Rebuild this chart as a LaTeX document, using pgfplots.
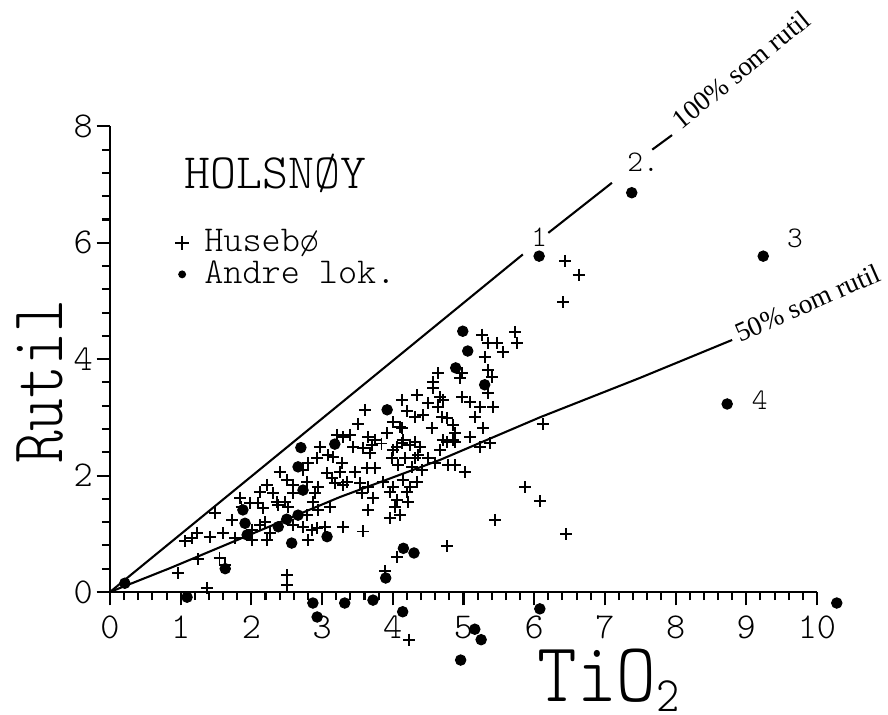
\documentclass[border=0pt]{standalone}
\usepackage{pgfplots}
\usepackage{pgfplotstable}
\pgfplotsset{compat=1.18}
\usepackage{fontspec}
\usepackage{graphicx}
\newfontfamily\timesfont{Liberation Serif}
\newfontfamily\plotfont{Latin Modern Mono Light}

\pgfplotstableread{
x y
0.96 0.33
1.25 0.56
1.55 0.58
1.06 0.88
1.16 0.93
1.23 1.02
1.41 0.95
1.60 1.01
1.77 0.93
1.49 1.36
1.73 1.24
1.84 1.62
1.86 1.46
1.98 1.53
2.09 1.53
2.16 1.44
2.12 1.72
2.22 1.84
2.31 1.70
2.36 1.55
2.38 1.49
2.48 1.55
2.52 1.46
2.40 2.06
2.50 1.92
2.59 1.84
2.59 1.70
2.73 2.10
2.80 2.21
2.93 2.30
2.97 2.49
3.08 2.35
3.15 2.32
3.28 2.21
3.25 2.06
3.07 2.04
3.14 1.96
3.18 1.87
3.30 1.84
2.79 1.89
2.94 1.80
2.90 1.70
2.87 1.55
2.94 1.41
3.11 1.46
2.12 1.15
2.19 1.20
2.26 1.01
2.22 0.89
2.01 0.89
2.01 1.07
2.73 1.12
2.59 1.15
2.86 1.07
2.93 1.10
3.04 1.12
2.80 0.89
3.30 1.12
2.79 1.32
2.50 0.29
2.50 0.12
1.37 0.07
3.89 0.36
4.23 -0.82
1.63 0.46
4.06 0.60
4.77 0.79
3.58 1.04
3.61 3.13
3.51 2.89
3.39 2.70
3.21 2.70
3.65 2.66
3.75 2.61
3.84 2.55
3.92 2.73
4.00 2.92
4.13 3.30
4.20 3.11
4.10 2.84
4.06 2.49
3.71 2.53
3.68 2.39
4.00 2.44
4.13 2.56
4.24 2.53
4.38 2.49
4.67 2.44
4.77 2.58
4.88 2.58
5.23 2.49
5.37 2.56
3.99 2.30
4.17 2.30
4.31 2.30
4.50 2.30
4.07 2.18
4.27 2.15
4.41 2.10
4.60 2.21
4.78 2.18
4.88 2.18
5.02 2.06
3.47 2.06
3.63 2.13
3.75 2.13
3.35 1.89
3.54 1.87
3.65 1.80
3.86 1.89
4.00 1.80
4.14 1.92
4.24 1.80
4.34 1.89
3.56 1.70
3.72 1.62
3.96 1.72
4.20 1.72
4.06 1.58
4.21 1.55
4.03 1.46
3.65 1.41
3.96 1.27
4.10 1.32
5.45 1.24
5.87 1.80
3.44 2.49
3.30 2.66
4.36 2.35
3.58 2.47
5.26 4.42
5.35 4.28
5.47 4.28
5.56 4.12
5.73 4.47
5.76 4.28
5.30 4.04
5.35 3.81
5.40 3.69
5.35 3.42
5.23 3.18
5.42 3.18
5.09 3.26
4.98 3.35
5.16 3.01
5.28 2.82
5.09 2.66
4.98 3.76
4.64 3.76
4.57 3.61
4.57 3.50
4.67 3.35
4.34 3.38
4.50 3.25
4.64 3.18
4.71 3.30
4.31 3.01
4.43 3.04
4.70 3.01
4.77 2.99
4.85 2.87
4.55 2.82
4.88 2.73
4.71 2.61
4.85 2.61
4.31 2.58
4.14 2.61
4.95 3.68
4.13 2.82
6.41 4.98
6.44 5.69
6.63 5.45
6.12 2.89
6.08 1.56
6.45 1.00
}\husebo

\pgfplotstableread{
x y
0.21 0.15
1.09 -0.09
1.63 0.40
2.87 -0.19
2.93 -0.43
3.32 -0.19
3.72 -0.14
3.90 0.24
4.14 -0.34
4.96 -1.17
5.16 -0.64
5.25 -0.82
6.08 -0.29
10.28 -0.19
6.07 5.77
7.38 6.86
9.24 5.77
8.73 3.23
4.99 4.48
5.06 4.14
4.89 3.85
5.30 3.56
3.92 3.13
3.18 2.54
2.70 2.48
2.66 2.15
2.73 1.75
1.88 1.41
1.91 1.18
1.94 0.98
2.50 1.25
2.38 1.12
2.66 1.32
2.57 0.84
3.07 0.95
4.15 0.75
4.30 0.67
}\andre

\begin{document}
\begin{tikzpicture}
\begin{axis}[
  x=0.9554cm, y=0.7865cm, anchor=origin, at={(0,0)},
  xmin=-1.5, xmax=10.6, ymin=-2, ymax=8.4,
  hide axis, clip=false,
  legend cell align=left,
  legend image code/.code={\draw[#1] plot coordinates {(0.12cm,0cm)}; \path (0cm,0cm) (0.36cm,0cm);},
  legend style={at={(axis cs:0.88,6.30)}, anchor=north west, draw=none, fill=none,
    font=\fontsize{14pt}{15pt}\selectfont\plotfont, inner sep=0pt,
    row sep=-1pt, column sep=0pt, nodes={inner sep=1.5pt}},
]
\addplot[only marks, mark=+, mark size=2.3pt, mark options={line width=0.7pt}, black, forget plot] table {\husebo};
\addplot[only marks, mark=*, mark size=2.0pt, black, forget plot] table {\andre};
\addlegendimage{only marks, mark=+, mark size=2.7pt, mark options={line width=0.6pt}, black}
\addlegendentry{Husebø}
\addlegendimage{only marks, mark=*, mark size=1.3pt, black}
\addlegendentry{Andre lok.}

% 100% line (with gaps for labels)
\addplot[black, line width=0.8pt, forget plot] coordinates {(0,0) (5.84,5.80)};
\addplot[black, line width=0.8pt, forget plot] coordinates {(6.20,6.17) (7.10,7.03)};
\addplot[black, line width=0.8pt, forget plot] coordinates {(7.67,7.60) (7.95,7.85)};
% 50% line
\addplot[black, line width=0.8pt, forget plot] coordinates {(0,0) (0.85,0.41) (3.25,1.63) (4.67,2.27) (6.08,3.00) (7.50,3.68) (8.80,4.33)};

\node[anchor=base west, font=\fontsize{19pt}{20pt}\selectfont\plotfont] at (axis cs:0.93,6.94) {HOLSNØY};
\node[rotate=90, anchor=base, font=\fontsize{24pt}{26pt}\selectfont\plotfont] at (axis cs:-0.665,3.608) {\scalebox{1}[1.2]{Rutil}};
\node[anchor=base west, font=\fontsize{29pt}{30pt}\selectfont\plotfont, inner sep=0pt] at (axis cs:6.04,-1.885) {\scalebox{1}[1.12]{TiO\raisebox{-0.12em}{\fontsize{17pt}{18pt}\selectfont 2}}};

\node[font=\fontsize{11.5pt}{12pt}\selectfont\plotfont] at (axis cs:6.07,6.10) {1};
\node[anchor=base west, inner sep=0pt, font=\fontsize{11.5pt}{12pt}\selectfont\plotfont] at (axis cs:7.31,7.22) {2.};
\node[font=\fontsize{11.5pt}{12pt}\selectfont\plotfont] at (axis cs:9.69,6.08) {3};
\node[font=\fontsize{11.5pt}{12pt}\selectfont\plotfont] at (axis cs:9.19,3.30) {4};

\node[rotate=39.3, anchor=base west, inner sep=0pt, font=\timesfont\fontsize{10.5pt}{12pt}\selectfont] at (axis cs:8.08,7.93) {100\% som rutil};
\node[rotate=23.8, anchor=base west, inner sep=0pt, font=\timesfont\fontsize{10.5pt}{12pt}\selectfont] at (axis cs:8.91,4.28) {50\% som rutil};
\end{axis}

\begin{axis}[
  x=0.9554cm, y=0.7865cm, anchor=origin, at={(0,0)},
  xmin=0, xmax=10, ymin=0, ymax=8,
  axis x line=bottom, axis y line=left,
  axis line style={-, line width=0.8pt, black},
  xtick={0,1,...,10}, ytick={0,2,4,6,8},
  minor x tick num=4, minor y tick num=4,
  tick align=outside, major tick length=0.18cm, minor tick length=0.11cm,
  tick style={black, line width=0.8pt},
  /pgf/number format/assume math mode=true,
  ticklabel style={font=\fontsize{14pt}{14pt}\selectfont\plotfont},
  xticklabel style={yshift=-0.02cm},
  yticklabel style={xshift=0.07cm},
]
\addplot[draw=none] coordinates {(0,0)};
\end{axis}
\pgfresetboundingbox
\path[use as bounding box] (-1.4865,-1.662) rectangle (10.514,8.0);
\end{tikzpicture}
\end{document}
